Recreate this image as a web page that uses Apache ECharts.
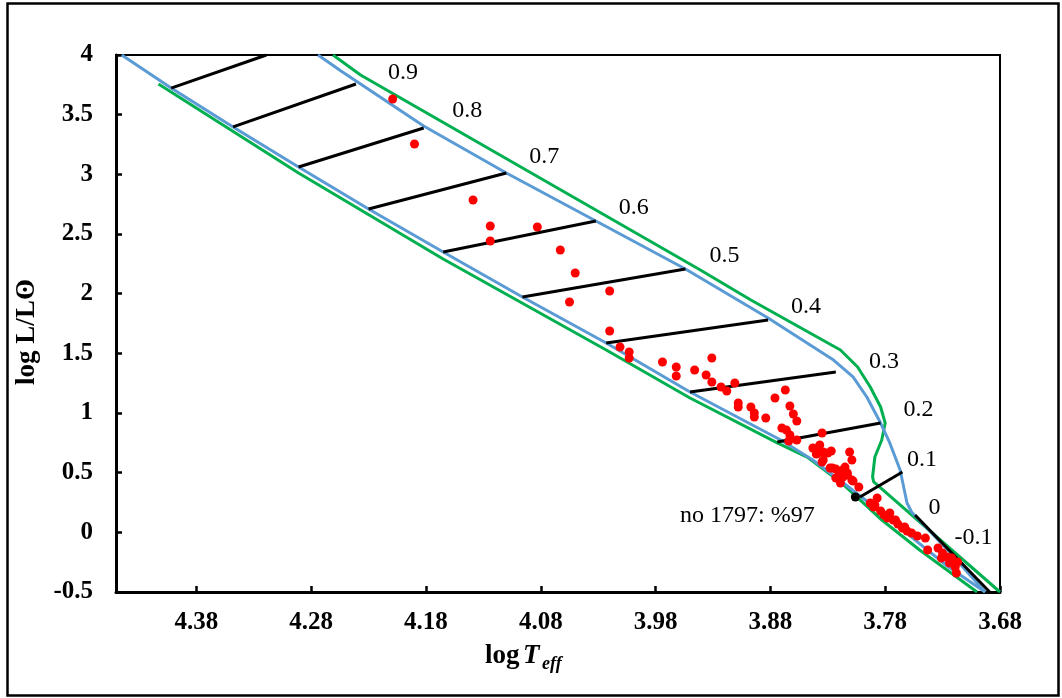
<!DOCTYPE html>
<html><head><meta charset="utf-8">
<script src="https://cdn.jsdelivr.net/npm/echarts@6/dist/echarts.min.js"></script>
<style>html,body{margin:0;padding:0;background:#fff}#c{width:1062px;height:698px}</style>
</head><body><div id="c"></div>
<script>
// ---- axis settings ----
const xMin = 3.68, xMax = 4.45, xStep = 0.1;
const yMin = -0.5, yMax = 4, yStep = 0.5;

// ---- boundary curves (log Teff, log L) ----
const blueLowerTeff = [4.445, 4.402, 4.348, 4.291, 4.230, 4.165, 4.096, 4.023, 3.950, 3.871, 3.843, 3.813, 3.784, 3.756, 3.726, 3.693];
const blueLowerLum  = [4.0,   3.723, 3.397, 3.061, 2.709, 2.349, 1.972, 1.587, 1.176, 0.774, 0.606, 0.388, 0.170, -0.048, -0.282, -0.5];

const blueUpperTeff = [4.274, 4.254, 4.182, 4.110, 4.032, 3.954, 3.882, 3.825, 3.808, 3.796, 3.784, 3.776, 3.767, 3.761, 3.757, 3.724, 3.693];
const blueUpperLum  = [4.0,   3.866, 3.405, 3.011, 2.609, 2.207, 1.796, 1.444, 1.302, 1.134, 0.916, 0.749, 0.522, 0.246, 0.170, -0.165, -0.5];

const greenLowerTeff = [4.413, 4.291, 4.165, 4.023, 3.950, 3.874, 3.848, 3.819, 3.784, 3.750, 3.700];
const greenLowerLum  = [3.757, 3.011, 2.290, 1.528, 1.126, 0.749, 0.631, 0.422, 0.112, -0.148, -0.5];

const greenUpperTeff = [4.261, 4.237, 3.941, 3.897, 3.819, 3.804, 3.793, 3.784, 3.780, 3.783, 3.789, 3.791, 3.790, 3.68];
const greenUpperLum  = [4.0,   3.832, 2.198, 1.947, 1.528, 1.385, 1.218, 1.050, 0.916, 0.774, 0.631, 0.464, 0.422, -0.5];

// ---- black isochrone segments ----
const isoLowTeff  = [4.402, 4.348, 4.291, 4.230, 4.165, 4.096, 4.023, 3.950, 3.874, 3.802, 3.754];
const isoLowLum   = [3.723, 3.397, 3.061, 2.709, 2.349, 1.972, 1.587, 1.176, 0.757, 0.296, 0.145];
const isoHighTeff = [4.319, 4.241, 4.182, 4.110, 4.032, 3.954, 3.882, 3.823, 3.784, 3.765, 3.689];
const isoHighLum  = [4.0,   3.757, 3.388, 3.011, 2.609, 2.207, 1.779, 1.344, 0.916, 0.505, -0.5];

// ---- isochrone labels ----
const isoNames    = ['0.9', '0.8', '0.7', '0.6', '0.5', '0.4', '0.3', '0.2', '0.1', '0', '-0.1'];
const isoNameTeff = [4.200, 4.144, 4.077, 3.999, 3.920, 3.849, 3.781, 3.751, 3.748, 3.737, 3.703];
const isoNameLum  = [3.849, 3.531, 3.145, 2.718, 2.316, 1.888, 1.427, 1.025, 0.606, 0.204, -0.048];

const noteText = 'no 1797: %97';
const noteTeff = 3.900, noteLum = 0.137;

// ---- stars (red) ----
const starTeff = [4.209, 4.190, 4.139, 4.124, 4.083, 4.124, 4.063, 4.050, 4.020, 4.055,
  4.020, 4.011, 4.003, 4.003, 3.974, 3.962, 3.962, 3.946, 3.931, 3.936,
  3.931, 3.923, 3.918, 3.911, 3.908, 3.908, 3.897, 3.894, 3.894, 3.884,
  3.876, 3.867, 3.863, 3.860, 3.857, 3.870, 3.866, 3.863, 3.864, 3.857,
  3.835, 3.843, 3.840, 3.834, 3.834, 3.827, 3.811, 3.809, 3.828, 3.823,
  3.815, 3.823, 3.817, 3.813, 3.819, 3.809, 3.803, 3.793, 3.787, 3.790,
  3.784, 3.781, 3.776, 3.778, 3.773, 3.769, 3.765, 3.761, 3.757, 3.752,
  3.745, 3.743, 3.734, 3.730, 3.731, 3.726, 3.722, 3.724, 3.719, 3.718,
  3.717, 3.817, 3.839, 3.830, 3.835, 3.820, 3.826, 3.808, 3.837, 3.813,
  3.789, 3.771, 3.763];
const starLum = [3.631, 3.254, 2.785, 2.567, 2.559, 2.441, 2.366, 2.173, 2.022, 1.930,
  1.687, 1.553, 1.511, 1.461, 1.427, 1.385, 1.310, 1.360, 1.461, 1.318,
  1.260, 1.218, 1.184, 1.251, 1.084, 1.050, 1.050, 1.000, 0.966, 0.958,
  1.126, 1.193, 1.059, 0.992, 0.933, 0.874, 0.857, 0.816, 0.765, 0.774,
  0.832, 0.707, 0.656, 0.673, 0.606, 0.682, 0.673, 0.606, 0.539, 0.531,
  0.547, 0.455, 0.464, 0.497, 0.413, 0.438, 0.380, 0.246, 0.288, 0.212,
  0.179, 0.145, 0.162, 0.120, 0.103, 0.070, 0.036, 0.011, -0.006, -0.031,
  -0.048, -0.148, -0.131, -0.173, -0.215, -0.207, -0.215, -0.257, -0.291, -0.341,
  -0.249, 0.522, 0.665, 0.665, 0.589, 0.497, 0.539, 0.430, 0.732, 0.480,
  0.229, 0.103, 0.045];

// ---- highlighted star (black) ----
const markTeff = [3.806];
const markLum  = [0.296];

function pairs(xs, ys) { return xs.map((x, i) => [x, ys[i]]); }

const SERIF = '"Liberation Serif", "Times New Roman", serif';
const series = [];
function curve(xs, ys, color, z) {
  series.push({ type: 'line', data: pairs(xs, ys), symbol: 'none', silent: true, z: z,
    lineStyle: { color: color, width: 3 } });
}
curve(greenLowerTeff, greenLowerLum, '#00B050', 2);
curve(greenUpperTeff, greenUpperLum, '#00B050', 2);
curve(blueLowerTeff, blueLowerLum, '#5B9BD5', 3);
curve(blueUpperTeff, blueUpperLum, '#5B9BD5', 3);
isoLowTeff.forEach((t, i) => {
  series.push({ type: 'line', symbol: 'none', silent: true, z: 4,
    data: [[t, isoLowLum[i]], [isoHighTeff[i], isoHighLum[i]]],
    lineStyle: { color: '#000', width: 3 } });
});
series.push({ type: 'scatter', z: 6, silent: true, symbolSize: 9,
  itemStyle: { color: '#FF0000', opacity: 1 }, data: pairs(starTeff, starLum) });
series.push({ type: 'scatter', z: 6, silent: true, symbolSize: 9,
  itemStyle: { color: '#000', opacity: 1 }, data: pairs(markTeff, markLum) });
series.push({ type: 'scatter', z: 7, silent: true, symbolSize: 1,
  itemStyle: { color: 'rgba(0,0,0,0)', opacity: 1 },
  data: isoNames.map((n, i) => [isoNameTeff[i], isoNameLum[i], n]).concat([[noteTeff, noteLum, noteText]]),
  label: { show: true, position: 'inside', formatter: p => p.data[2], opacity: 1,
    fontFamily: SERIF, fontSize: 24, color: '#000', textBorderWidth: 0, textShadowBlur: 0 } });

const chart = echarts.init(document.getElementById('c'), null, { renderer: 'canvas' });
chart.setOption({
  animation: false,
  backgroundColor: '#fff',
  grid: { left: 116, right: 62, top: 55, bottom: 106, show: true, borderColor: '#000', borderWidth: 2, backgroundColor: '#fff' },
  xAxis: {
    type: 'value', inverse: true, min: xMin, max: xMax, interval: xStep,
    axisLine: { show: true, onZero: false, lineStyle: { color: '#000', width: 3 } },
    axisTick: { show: true, inside: true, length: 6, lineStyle: { color: '#000', width: 2.5 } },
    splitLine: { show: false },
    axisLabel: { showMaxLabel: false, formatter: v => v.toFixed(2), margin: 18,
      fontFamily: SERIF, fontWeight: 'bold', fontSize: 25, color: '#000' }
  },
  yAxis: {
    type: 'value', min: yMin, max: yMax, interval: yStep,
    axisLine: { show: true, onZero: false, lineStyle: { color: '#000', width: 3 } },
    axisTick: { show: true, inside: true, length: 6, lineStyle: { color: '#000', width: 2.5 } },
    splitLine: { show: false },
    axisLabel: { margin: 23, fontFamily: SERIF, fontWeight: 'bold', fontSize: 25, color: '#000' }
  },
  graphic: [
    { type: 'rect', left: 5, top: 1, z: 100, silent: true,
      shape: { x: 0, y: 0, width: 1051, height: 692 },
      style: { fill: 'none', stroke: '#000', lineWidth: 2.5 } },
    { type: 'text', x: 485, y: 656, z: 100, silent: true,
      style: { text: 'log', font: 'bold 27px ' + SERIF, fill: '#000', align: 'left', verticalAlign: 'middle' } },
    { type: 'text', x: 523, y: 656, z: 100, silent: true,
      style: { text: 'T', font: 'italic bold 27px ' + SERIF, fill: '#000', align: 'left', verticalAlign: 'middle' } },
    { type: 'text', x: 542, y: 664, z: 100, silent: true,
      style: { text: 'eff', font: 'italic bold 18px ' + SERIF, fill: '#000', align: 'left', verticalAlign: 'middle' } },
    { type: 'text', x: 27, y: 332, rotation: Math.PI / 2, z: 100, silent: true,
      style: { text: 'log L/Lʘ', font: 'bold 27px ' + SERIF, fill: '#000', align: 'center', verticalAlign: 'middle' } }
  ],
  series: series
});
</script>
</body></html>
